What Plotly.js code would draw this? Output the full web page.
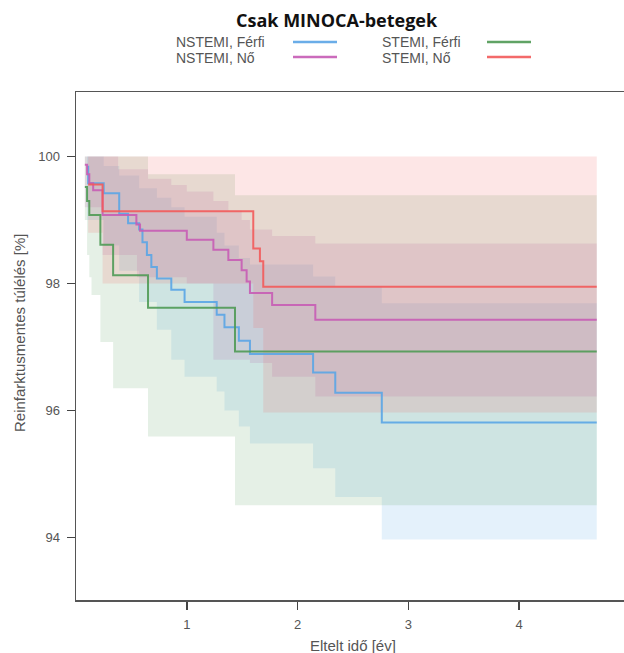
<!DOCTYPE html>
<html><head><meta charset="utf-8">
<script src="https://cdn.plot.ly/plotly-3.0.1.min.js"></script>
<style>html,body{margin:0;padding:0;background:#fff;}#chart{width:624px;height:653px;}</style>
</head><body><div id="chart"></div>
<script>
// ---- data ----
const chartTitle = 'Csak MINOCA-betegek';
const xTitle = 'Eltelt idő [év]';
const yTitle = 'Reinfarktusmentes túlélés [%]';
const seriesNames = ['NSTEMI, Férfi', 'NSTEMI, Nő', 'STEMI, Férfi', 'STEMI, Nő'];
const xTickVals = [1, 2, 3, 4];
const yTickVals = [94, 96, 98, 100];

// Kaplan-Meier curves
const nstemiFerfiTime = [0.10, 0.11, 0.25, 0.39, 0.47, 0.57, 0.60, 0.64, 0.68, 0.73, 0.86, 0.98, 1.27, 1.34, 1.47, 1.57, 2.14, 2.34, 2.76, 4.70];
const nstemiFerfiSurv = [99.84, 99.58, 99.42, 99.10, 98.95, 98.85, 98.65, 98.45, 98.26, 98.08, 97.90, 97.71, 97.51, 97.31, 97.10, 96.89, 96.60, 96.28, 95.81, 95.81];

const nstemiNoTime = [0.08, 0.10, 0.12, 0.155, 0.24, 0.545, 0.578, 1.00, 1.24, 1.375, 1.495, 1.54, 1.57, 1.77, 2.16, 4.70];
const nstemiNoSurv = [99.87, 99.72, 99.58, 99.47, 99.08, 98.93, 98.83, 98.69, 98.53, 98.37, 98.21, 98.03, 97.85, 97.66, 97.43, 97.43];

const stemiFerfiTime = [0.08, 0.10, 0.12, 0.22, 0.335, 0.65, 1.435, 4.70];
const stemiFerfiSurv = [99.52, 99.30, 99.08, 98.61, 98.13, 97.62, 96.93, 96.93];

const stemiNoTime = [0.11, 0.24, 1.60, 1.66, 1.69, 4.70];
const stemiNoSurv = [99.56, 99.14, 98.55, 98.35, 97.95, 97.95];

// Confidence bands
const nstemiFerfiCiTime = [0.10, 0.25, 0.39, 0.57, 0.73, 0.86, 0.98, 1.27, 1.34, 1.47, 1.57, 2.14, 2.34, 2.76, 4.70];
const nstemiFerfiUpper = [100, 99.85, 99.7, 99.5, 99.35, 99.2, 99.05, 98.8, 98.6, 98.4, 98.3, 98.11, 97.95, 97.69, 97.69];
const nstemiFerfiLower = [99.0, 98.6, 98.2, 97.71, 97.27, 96.8, 96.53, 96.3, 96.0, 95.75, 95.48, 95.09, 94.64, 93.97, 93.97];

const nstemiNoCiTime = [0.08, 0.24, 0.38, 0.55, 0.65, 0.86, 1.00, 1.24, 1.375, 1.495, 1.57, 1.77, 2.16, 4.70];
const nstemiNoUpper = [100, 100, 99.8, 99.8, 99.65, 99.55, 99.45, 99.3, 99.15, 99.0, 98.85, 98.75, 98.63, 98.63];
const nstemiNoLower = [99.2, 98.45, 98.45, 98.1, 98.1, 98.1, 98.0, 96.8, 96.8, 96.8, 96.75, 96.53, 96.22, 96.22];

const stemiFerfiCiTime = [0.08, 0.10, 0.12, 0.14, 0.22, 0.335, 0.65, 1.435, 4.70];
const stemiFerfiUpper = [100, 100, 100, 100, 100, 100, 99.72, 99.39, 99.39];
const stemiFerfiLower = [99.0, 98.45, 98.1, 97.82, 97.08, 96.35, 95.59, 94.51, 94.51];

const stemiNoCiTime = [0.11, 0.24, 1.60, 1.69, 4.70];
const stemiNoUpper = [100, 100, 100, 100, 100];
const stemiNoLower = [98.8, 98.0, 97.3, 95.97, 95.97];

// ---- styles ----
const lineColors = ['#5aa5e6', '#c65cb5', '#4f9a55', '#f25a5a'];
const bandColors = ['rgba(90,165,230,0.16)', 'rgba(198,92,181,0.17)', 'rgba(79,154,85,0.15)', 'rgba(242,90,90,0.15)'];

const curves = [
  [nstemiFerfiTime, nstemiFerfiSurv],
  [nstemiNoTime, nstemiNoSurv],
  [stemiFerfiTime, stemiFerfiSurv],
  [stemiNoTime, stemiNoSurv]
];
const bands = [
  [nstemiFerfiCiTime, nstemiFerfiUpper, nstemiFerfiLower],
  [nstemiNoCiTime, nstemiNoUpper, nstemiNoLower],
  [stemiFerfiCiTime, stemiFerfiUpper, stemiFerfiLower],
  [stemiNoCiTime, stemiNoUpper, stemiNoLower]
];

const traces = [];
bands.forEach((b, i) => {
  traces.push({x: b[0], y: b[2], type: 'scatter', mode: 'lines', line: {width: 0, shape: 'hv'},
    showlegend: false, hoverinfo: 'skip'});
  traces.push({x: b[0], y: b[1], type: 'scatter', mode: 'lines', line: {width: 0, shape: 'hv'},
    fill: 'tonexty', fillcolor: bandColors[i], showlegend: false, hoverinfo: 'skip'});
});
curves.forEach((c, i) => {
  traces.push({x: c[0], y: c[1], type: 'scatter', mode: 'lines', name: seriesNames[i],
    line: {color: lineColors[i], width: 2, shape: 'hv'}, opacity: 0.9, showlegend: false});
});

// pixel -> paper helpers for decorations
const PL = 76, PR = 624, PT = 92, PB = 600;
const fx = px => (px - PL) / (PR - PL);
const fy = py => (PB - py) / (PB - PT);

const gray = '#555555';
const annotations = [
  {text: '<b>' + chartTitle + '</b>', x: fx(337), y: fy(20), xref: 'paper', yref: 'paper',
   xanchor: 'center', yanchor: 'middle', showarrow: false,
   font: {family: 'Open Sans, sans-serif', size: 18, color: '#111'}},
  {text: xTitle, x: fx(353), y: fy(645), xref: 'paper', yref: 'paper', xanchor: 'center', yanchor: 'middle',
   showarrow: false, font: {family: 'Liberation Sans, Arial, sans-serif', size: 15, color: gray}},
  {text: yTitle, x: fx(19), y: fy(333), xref: 'paper', yref: 'paper', xanchor: 'center', yanchor: 'middle',
   textangle: -90, showarrow: false, font: {family: 'Liberation Sans, Arial, sans-serif', size: 15, color: gray}}
];
const legendPos = [[175, 42, 293], [175, 58, 293], [381, 42, 487], [381, 58, 487]];
const legendLineY = [42, 57, 42, 57];
const shapes = [];
seriesNames.forEach((n, i) => {
  const p = legendPos[i];
  annotations.push({text: n, x: fx(p[0]), y: fy(p[1]), xref: 'paper', yref: 'paper', xanchor: 'left',
    yanchor: 'middle', showarrow: false, borderpad: 0,
    font: {family: 'Liberation Sans, Arial, sans-serif', size: 14, color: gray}});
  shapes.push({type: 'line', xref: 'paper', yref: 'paper', x0: fx(p[2]), x1: fx(p[2] + 44),
    y0: fy(legendLineY[i]), y1: fy(legendLineY[i]), line: {color: lineColors[i], width: 2.5}, opacity: 0.9});
});

const layout = {
  width: 624, height: 653,
  margin: {l: PL, r: 0, t: PT, b: 653 - PB, pad: 0},
  paper_bgcolor: '#ffffff', plot_bgcolor: '#ffffff',
  showlegend: false,
  xaxis: {range: [0, 4.946], tickvals: xTickVals, ticks: 'outside', ticklen: 8, tickwidth: 1.5,
    tickcolor: '#444', showline: true, linecolor: gray, linewidth: 1.5, mirror: true,
    showgrid: false, zeroline: false, ticklabelstandoff: 4,
    tickfont: {family: 'Liberation Sans, Arial, sans-serif', size: 13, color: gray}},
  yaxis: {range: [93.016, 101.016], tickvals: yTickVals, ticks: 'outside', ticklen: 8, tickwidth: 1.5,
    tickcolor: '#444', showline: true, linecolor: gray, linewidth: 1.5, mirror: false,
    showgrid: false, zeroline: false, ticklabelstandoff: 4,
    tickfont: {family: 'Liberation Sans, Arial, sans-serif', size: 13, color: gray}},
  annotations: annotations,
  shapes: shapes
};

Plotly.newPlot('chart', traces, layout, {displayModeBar: false, staticPlot: true});
</script></body></html>
